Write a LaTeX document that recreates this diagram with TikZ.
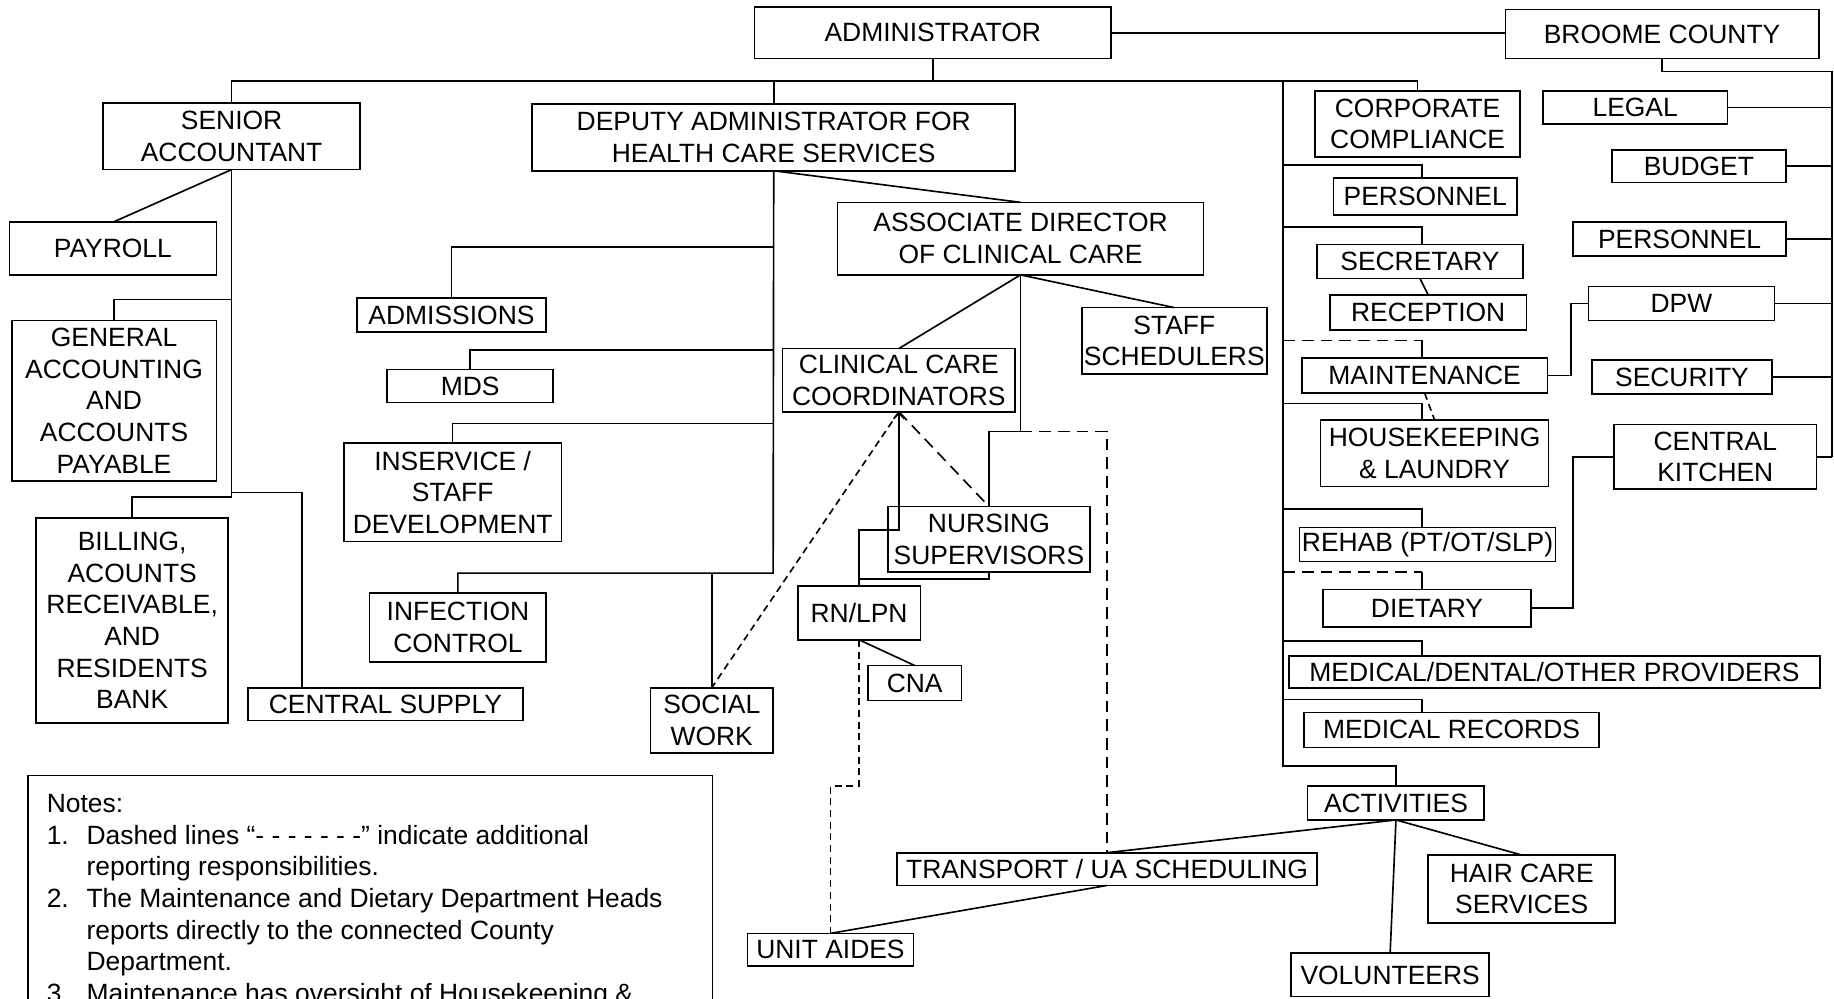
\documentclass[tikz,border=0pt]{standalone}
\usepackage{fontspec}
\setmainfont{Liberation Sans}
\usetikzlibrary{positioning}
\usetikzlibrary{arrows.meta}
\newcommand{\orgfont}{\fontsize{22.6}{27}\selectfont}

\begin{document}
\begin{tikzpicture}[x=1pt, y=-1pt, line width=1.4pt, outer sep=0,
    unit/.style={draw, rectangle, inner sep=1pt, align=center, font=\orgfont},
    fine/.style={dash pattern=on 6pt off 4pt},
    extra/.style={dash pattern=on 10pt off 6pt}]
    \useasboundingbox (0,0) rectangle (1568,854);
        % top
        \node [unit, minimum width=305pt, minimum height=44pt] (admin) at (797.5,28) {ADMINISTRATOR};
        \node [unit, minimum width=268pt, minimum height=42pt] (broome) at (1421,29) {BROOME COUNTY};
        \node [unit, minimum width=220pt, minimum height=57pt] (senior) at (198,116.5) {SENIOR\\ACCOUNTANT};
        \node [unit, minimum width=413pt, minimum height=57pt] (deputy) at (661.5,117.5) {DEPUTY ADMINISTRATOR FOR\\HEALTH CARE SERVICES};
        % finance
        \node [unit, minimum width=177pt, minimum height=45pt] (payroll) at (96.5,212.5) {PAYROLL};
        \node [unit, minimum width=175pt, minimum height=137pt] (genacc) at (97.5,342.5) {GENERAL\\ACCOUNTING\\AND\\ACCOUNTS\\PAYABLE};
        \node [unit, minimum width=164pt, minimum height=175pt] (billing) at (113,530.5) {BILLING,\\ACOUNTS\\RECEIVABLE,\\AND\\RESIDENTS\\BANK};
        \node [unit, minimum width=235pt, minimum height=28pt] (supply) at (329.5,602) {CENTRAL SUPPLY};
        % health care
        \node [unit, minimum width=162pt, minimum height=29pt] (admissions) at (386,269.5) {ADMISSIONS};
        \node [unit, minimum width=142pt, minimum height=28pt] (mds) at (402,330) {MDS};
        \node [unit, minimum width=186pt, minimum height=84pt] (inservice) at (387,421) {INSERVICE /\\STAFF\\DEVELOPMENT};
        \node [unit, minimum width=151pt, minimum height=59pt] (infection) at (391.5,536.5) {INFECTION\\CONTROL};
        \node [unit, minimum width=105pt, minimum height=56pt] (social) at (608.5,616) {SOCIAL\\WORK};
        \node [unit, minimum width=313pt, minimum height=62pt] (assoc) at (872.5,204) {ASSOCIATE DIRECTOR\\OF CLINICAL CARE};
        \node [unit, minimum width=199pt, minimum height=54pt] (ccc) at (768.5,325) {CLINICAL CARE\\COORDINATORS};
        \node [unit, minimum width=158pt, minimum height=57pt] (sched) at (1004,291.5) {STAFF\\SCHEDULERS};
        \node [unit, minimum width=173pt, minimum height=56pt] (nursing) at (845.5,461) {NURSING\\SUPERVISORS};
        \node [unit, minimum width=105pt, minimum height=46pt] (rnlpn) at (734.5,524) {RN/LPN};
        \node [unit, minimum width=80pt, minimum height=30pt] (cna) at (782,584) {CNA};
        \node [unit, minimum width=359pt, minimum height=28pt] (transport) at (946.5,743) {TRANSPORT / UA SCHEDULING};
        \node [unit, minimum width=142pt, minimum height=28pt] (aides) at (710,812) {UNIT AIDES};
        % departments
        \node [unit, minimum width=175pt, minimum height=56pt] (corporate) at (1212,106) {CORPORATE\\COMPLIANCE};
        \node [unit, minimum width=157pt, minimum height=32pt] (personnelL) at (1218.5,168) {PERSONNEL};
        \node [unit, minimum width=176pt, minimum height=29pt] (secretary) at (1214,223.5) {SECRETARY};
        \node [unit, minimum width=168pt, minimum height=30pt] (reception) at (1221,267) {RECEPTION};
        \node [unit, minimum width=210pt, minimum height=30pt] (maintenance) at (1218,321) {MAINTENANCE};
        \node [unit, minimum width=195pt, minimum height=57pt] (housekeeping) at (1226.5,387.5) {HOUSEKEEPING\\\& LAUNDRY};
        \node [unit, minimum width=219pt, minimum height=29pt] (rehab) at (1220.5,465.5) {REHAB (PT/OT/SLP)};
        \node [unit, minimum width=178pt, minimum height=32pt] (dietary) at (1220,520) {DIETARY};
        \node [unit, minimum width=454pt, minimum height=27pt] (medical) at (1329,574.5) {MEDICAL/DENTAL/OTHER PROVIDERS};
        \node [unit, minimum width=252pt, minimum height=30pt] (records) at (1241,624) {MEDICAL RECORDS};
        \node [unit, minimum width=151pt, minimum height=29pt] (activities) at (1193.5,686.5) {ACTIVITIES};
        \node [unit, minimum width=160pt, minimum height=58pt] (haircare) at (1301,760) {HAIR CARE\\SERVICES};
        \node [unit, minimum width=169pt, minimum height=37pt] (volunteers) at (1188.5,833.5) {VOLUNTEERS};
        % county
        \node [unit, minimum width=158pt, minimum height=28pt] (legal) at (1398,92) {LEGAL};
        \node [unit, minimum width=149pt, minimum height=28pt] (budget) at (1452.5,142) {BUDGET};
        \node [unit, minimum width=182pt, minimum height=29pt] (personnelR) at (1436,204.5) {PERSONNEL};
        \node [unit, minimum width=159pt, minimum height=29pt] (dpw) at (1437.5,259.5) {DPW};
        \node [unit, minimum width=154pt, minimum height=29pt] (security) at (1438,322.5) {SECURITY};
        \node [unit, minimum width=173pt, minimum height=55pt] (kitchen) at (1466.5,390.5) {CENTRAL\\KITCHEN};

        % administrator
        \coordinate (bus) at (797.5,69);
        \draw (admin.east) -- (admin.east -| broome.west);
        \draw (admin.south) -- (bus);
        \draw (senior.north) |- (bus) -| (corporate.north);
        \draw (deputy.north) -- (deputy.north |- bus);
        % senior accountant
        \draw (senior.south) -- (payroll.north);
        \draw (senior.south) -- (198,425) -| (billing.north);
        \draw (198,256) -| (genacc.north);
        \draw (198,421) -| (258,0 |- supply.north);
        % deputy
        \draw (deputy.south) -- (assoc.north);
        \draw (deputy.south) -- (661,490) -| (infection.north);
        \foreach \b/\y in {admissions/211, mds/299, inservice/362}
            \draw (661,\y) -| (\b.north);
        \draw (social.north) -- (social.north |- 0,490);
        % clinical care
        \coordinate (ascturn) at (872.5,369);
        \draw (assoc.south) -- (ccc.north);
        \draw (assoc.south) -- (sched.north);
        \draw (assoc.south) -- (ascturn) -| (nursing.north);
        \draw [extra] (ascturn) -| (transport.north);
        \draw [{Straight Barb[length=5pt, width=9pt]}-] (ccc.south) -- ++(0,101) -| (rnlpn.north);
        \draw (nursing.south) |- ([yshift=6pt]rnlpn.north);
        \draw (rnlpn.south) -- (cna.north);
        \draw [fine] (rnlpn.south) -- ++(0,125) -| (aides.north);
        \draw [fine] (ccc.south) -- (social.north);
        \draw [extra] (ccc.south) -- (nursing.north);
        % departments
        \draw (1097,69) -- (1097,655) -| (activities.north);
        \foreach \b/\y in {personnelL/141, secretary/194, housekeeping/345, rehab/435, medical/548, records/598}
            \draw (1097,\y) -| (1216,0 |- \b.north);
        \draw [extra] (1097,291) -- (1216,291);
        \draw (1216,291) -- (1216,0 |- maintenance.north);
        \draw [extra] (1097,489) -- (1216,489);
        \draw (1216,489) -- (1216,0 |- dietary.north);
        \draw (secretary.south) -- (reception.north);
        \draw [fine] (maintenance.south) -- (housekeeping.north);
        \draw (maintenance.east) -- ++(20,0) |- (dpw.west);
        \draw (dietary.east) -- ++(36,0) |- (kitchen.west);
        \draw (activities.south) -- (transport.north);
        \draw (activities.south) -- (volunteers.north);
        \draw (activities.south) -- (haircare.north);
        \draw (transport.south) -- (aides.north);
        % county
        \draw (broome.south) -- ++(0,11) -| (1566,0 |- kitchen.east);
        \foreach \b in {legal, budget, personnelR, dpw, security, kitchen}
            \draw (\b.east) -- (1566,0 |- \b.east);

        % notes
        \draw (24,663) rectangle (609,900);
        \node [anchor=north west, inner sep=0, font=\orgfont] (notes) at (40,676) {%
            \begin{tabular}{@{}p{34pt}@{}l@{}}
            \multicolumn{2}{@{}l@{}}{Notes:}\\
            1. & Dashed lines “- - - - - - -” indicate additional\\
               & reporting responsibilities.\\
            2. & The Maintenance and Dietary Department Heads\\
               & reports directly to the connected County\\
               & Department.\\
            3. & Maintenance has oversight of Housekeeping \&\\
            \end{tabular}};
    \end{tikzpicture}
\end{document}
